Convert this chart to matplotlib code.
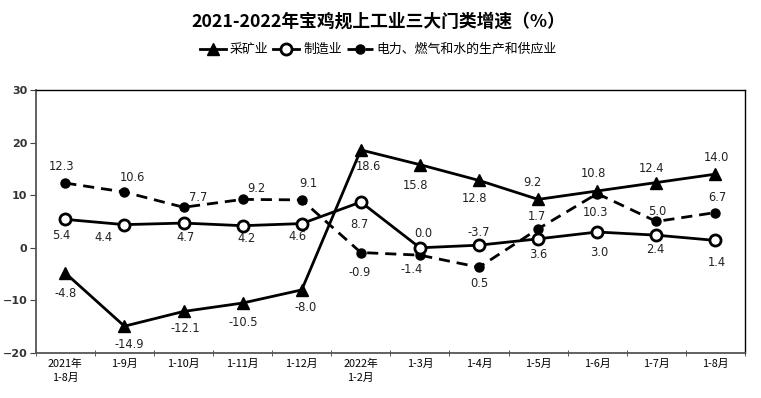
import matplotlib.pyplot as plt
import numpy as np

plt.rcParams['font.family'] = ['Noto Sans CJK SC', 'DejaVu Sans']

months = ["2021年\n1-8月", "1-9月", "1-10月", "1-11月", "1-12月", "2022年\n1-2月",
          "1-3月", "1-4月", "1-5月", "1-6月", "1-7月", "1-8月"]
mining = [-4.8, -14.9, -12.1, -10.5, -8.0, 18.6, 15.8, 12.8, 9.2, 10.8, 12.4, 14.0]
manuf = [5.4, 4.4, 4.7, 4.2, 4.6, 8.7, 0.0, 0.5, 1.7, 3.0, 2.4, 1.4]
utility = [12.3, 10.6, 7.7, 9.2, 9.1, -0.9, -1.4, -3.7, 3.6, 10.3, 5.0, 6.7]

# label offsets (pixels) relative to each marker
off_mining = [(0, -20), (5, -18), (2, -17), (1, -19), (4, -18), (8, -17),
              (-4, -21), (-5, -18), (-6, 17), (-4, 17), (-5, 14), (1, 17)]
off_manuf = [(-4, -16), (-21, -13), (2, -14), (4, -13), (-4, -13), (-1, -22),
             (3, 14), (0, -38), (-1, 22), (2, -20), (-1, -14), (1, -22)]
off_util = [(-4, 17), (8, 15), (15, 10), (14, 11), (7, 16), (-1, -20),
            (-8, -14), (0, 35), (0, -26), (-2, -19), (1, 10), (2, 15)]

fig = plt.figure(figsize=(7.61, 3.98), dpi=100)
ax = fig.add_axes([0.047, 0.113, 0.932, 0.661])

x = np.arange(len(months))
ax.plot(x, mining, color='black', lw=2, marker='^', ms=8, label='采矿业', zorder=3)
ax.plot(x, manuf, color='black', lw=2, marker='o', ms=8, mfc='white', mec='black',
        mew=2, label='制造业', zorder=4)
ax.plot(x, utility, color='black', lw=2, ls=(0, (4, 2.5)), marker='o', ms=6.5,
        label='电力、燃气和水的生产和供应业', zorder=3)

for vals, offs in ((mining, off_mining), (manuf, off_manuf), (utility, off_util)):
    for i, (v, o) in enumerate(zip(vals, offs)):
        ax.annotate(f"{v:.1f}", (i, v), xytext=o, textcoords='offset pixels',
                    ha='center', va='center', fontsize=8.3, family='DejaVu Sans',
                    color='#222222', zorder=5)

ax.set_xlim(-0.5, len(months) - 0.5)
ax.set_ylim(-20, 30)
ax.set_yticks([-20, -10, 0, 10, 20, 30])
ax.set_xticks(x)
ax.set_xticklabels(months, fontsize=7.8, linespacing=1.5)
ax.set_xticks(np.arange(-0.5, len(months), 1), minor=True)
ax.tick_params(axis='x', which='major', length=0, pad=4)
ax.tick_params(axis='x', which='minor', length=5, direction='inout', color='#404040')
ax.tick_params(axis='y', labelsize=8, length=4, color='#404040', pad=2)
for lab in ax.get_yticklabels():
    lab.set_family('DejaVu Sans')
    lab.set_fontweight('bold')
    lab.set_color('#333333')
for s in ('left', 'bottom'):
    ax.spines[s].set_color('#555555')
    ax.spines[s].set_linewidth(1.3)
for s in ('top', 'right'):
    ax.spines[s].set_color('black')
    ax.spines[s].set_linewidth(1)

fig.text(0.497, 0.945, "2021-2022年宝鸡规上工业三大门类增速（%）", ha='center',
         va='center', fontsize=12.8, fontweight='bold')
fig.legend(loc='center', bbox_to_anchor=(0.497, 0.875), ncol=3, frameon=False,
           fontsize=9.3, handlelength=2.0, handletextpad=0.3, columnspacing=0.4,
           borderpad=0)

fig.savefig('out.png', dpi=100)
